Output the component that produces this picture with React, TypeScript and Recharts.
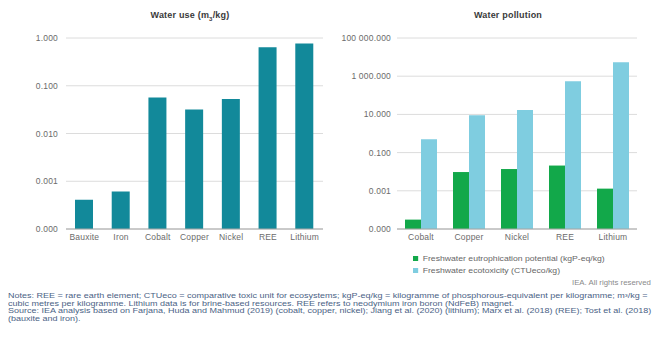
import { BarChart, Bar, XAxis, YAxis, CartesianGrid, Legend } from "recharts";

const useMinerals = ["Bauxite", "Iron", "Cobalt", "Copper", "Nickel", "REE", "Lithium"];
const waterUse = [0.00041, 0.00061, 0.057, 0.032, 0.053, 0.64, 0.77];
const useTicks = [0.0001, 0.001, 0.01, 0.1, 1];

const pollMinerals = ["Cobalt", "Copper", "Nickel", "REE", "Lithium"];
const eutrophication = [0.000031, 0.0096, 0.0138, 0.021, 0.0013];
const ecotoxicity = [0.5, 8.9, 16.8, 550, 5400];
const pollTicks = [0.00001, 0.001, 0.1, 10, 1000, 100000];
const seriesOrder = ["eutro", "eco"];

const useData = useMinerals.map((name, i) => ({ name, value: waterUse[i] }));
const pollData = pollMinerals.map((name, i) => ({
  name,
  eutro: eutrophication[i],
  eco: ecotoxicity[i],
}));

const FONT = "'Liberation Sans', Arial, sans-serif";
const tick = { fontSize: 8.5, fill: "#6b6b6b", fontFamily: FONT, letterSpacing: 0.2 };

const fmt = (v: number) => {
  const [int, dec] = v.toFixed(3).split(".");
  return int.replace(/\B(?=(\d{3})+(?!\d))/g, " ") + "." + dec;
};

const YTick = (props: any) => {
  const { x, y, payload } = props;
  return (
    <text x={x} y={y} dy={3} textAnchor="end" fontSize={8.5} fill="#6b6b6b" fontFamily={FONT} letterSpacing={0.2}>
      {fmt(payload.value)}
    </text>
  );
};

export default function App() {
  return (
    <div style={{ position: "absolute", left: 0, top: 0, width: 657, height: 345, overflow: "hidden", background: "#fff", fontFamily: FONT }}>
      <div style={{ position: "absolute", left: 90, width: 200, top: 10, textAlign: "center", fontSize: 9, fontWeight: "bold", color: "#3a3a3a", letterSpacing: 0.2 }}>
        Water use (m<sub style={{ fontSize: 6 }}>3</sub>/kg)
      </div>
      <div style={{ position: "absolute", left: 408, width: 200, top: 10, textAlign: "center", fontSize: 9, fontWeight: "bold", color: "#3a3a3a", letterSpacing: 0.2 }}>
        Water pollution
      </div>

      <div style={{ position: "absolute", left: 0, top: 0 }}>
        <BarChart width={330} height={250} data={useData} margin={{ top: 38, right: 7, bottom: 0, left: 0 }}>
          <CartesianGrid vertical={false} stroke="#dcdcdc" />
          <XAxis dataKey="name" tick={tick} tickLine={false} tickSize={0} tickMargin={5} height={21} stroke="#a6a6a6" interval={0} />
          <YAxis
            scale="log"
            domain={[0.0001, 1]}
            ticks={useTicks}
            tick={<YTick />}
            axisLine={false}
            tickLine={false}
            tickSize={0}
            tickMargin={8}
            width={66}
            allowDataOverflow
          />
          <Bar dataKey="value" fill="#12899a" barSize={18} isAnimationActive={false} />
        </BarChart>
      </div>

      <div style={{ position: "absolute", left: 320, top: 0 }}>
        <BarChart width={337} height={250} data={pollData} margin={{ top: 38, right: 20, bottom: 0, left: 0 }} barGap={0}>
          <CartesianGrid vertical={false} stroke="#dcdcdc" />
          <XAxis dataKey="name" tick={tick} tickLine={false} tickSize={0} tickMargin={5} height={21} stroke="#a6a6a6" interval={0} />
          <YAxis
            scale="log"
            domain={[0.00001, 100000]}
            ticks={pollTicks}
            tick={<YTick />}
            axisLine={false}
            tickLine={false}
            tickSize={0}
            tickMargin={6}
            width={77}
            allowDataOverflow
          />
          <Legend
            layout="vertical"
            align="center"
            verticalAlign="middle"
            iconType="square"
            iconSize={5}
            itemSorter={(item: any) => seriesOrder.indexOf(item.dataKey)}
            wrapperStyle={{
              top: 253,
              left: 93,
              width: 200,
              fontSize: 8,
              lineHeight: "12px",
              transform: "scaleX(1.08)",
              transformOrigin: "left top",
              whiteSpace: "nowrap",
            }}
            formatter={(value: string) => <span style={{ color: "#666" }}>{value}</span>}
          />
          <Bar dataKey="eutro" name="Freshwater eutrophication potential (kgP-eq/kg)" fill="#12a84a" barSize={16} isAnimationActive={false} />
          <Bar dataKey="eco" name="Freshwater ecotoxicity (CTUeco/kg)" fill="#7fcde0" barSize={16} isAnimationActive={false} />
        </BarChart>
      </div>

      <div style={{ position: "absolute", left: 572, top: 279, fontSize: 6.5, color: "#8a8a8a", whiteSpace: "nowrap", transform: "scaleX(1.2)", transformOrigin: "left top" }}>
        IEA. All rights reserved
      </div>
      <div style={{ position: "absolute", left: 8, top: 292, fontSize: 7, lineHeight: "7.5px", color: "#4a6285", whiteSpace: "nowrap", transform: "scaleX(1.285)", transformOrigin: "left top" }}>
        <div>Notes: REE = rare earth element; CTUeco = comparative toxic unit for ecosystems; kgP-eq/kg = kilogramme of phosphorous-equivalent per kilogramme; m³/kg =</div>
        <div>cubic metres per kilogramme. Lithium data is for brine-based resources. REE refers to neodymium iron boron (NdFeB) magnet.</div>
        <div>Source: IEA analysis based on Farjana, Huda and Mahmud (2019) (cobalt, copper, nickel); Jiang et al. (2020) (lithium); Marx et al. (2018) (REE); Tost et al. (2018)</div>
        <div>(bauxite and iron).</div>
      </div>
    </div>
  );
}
